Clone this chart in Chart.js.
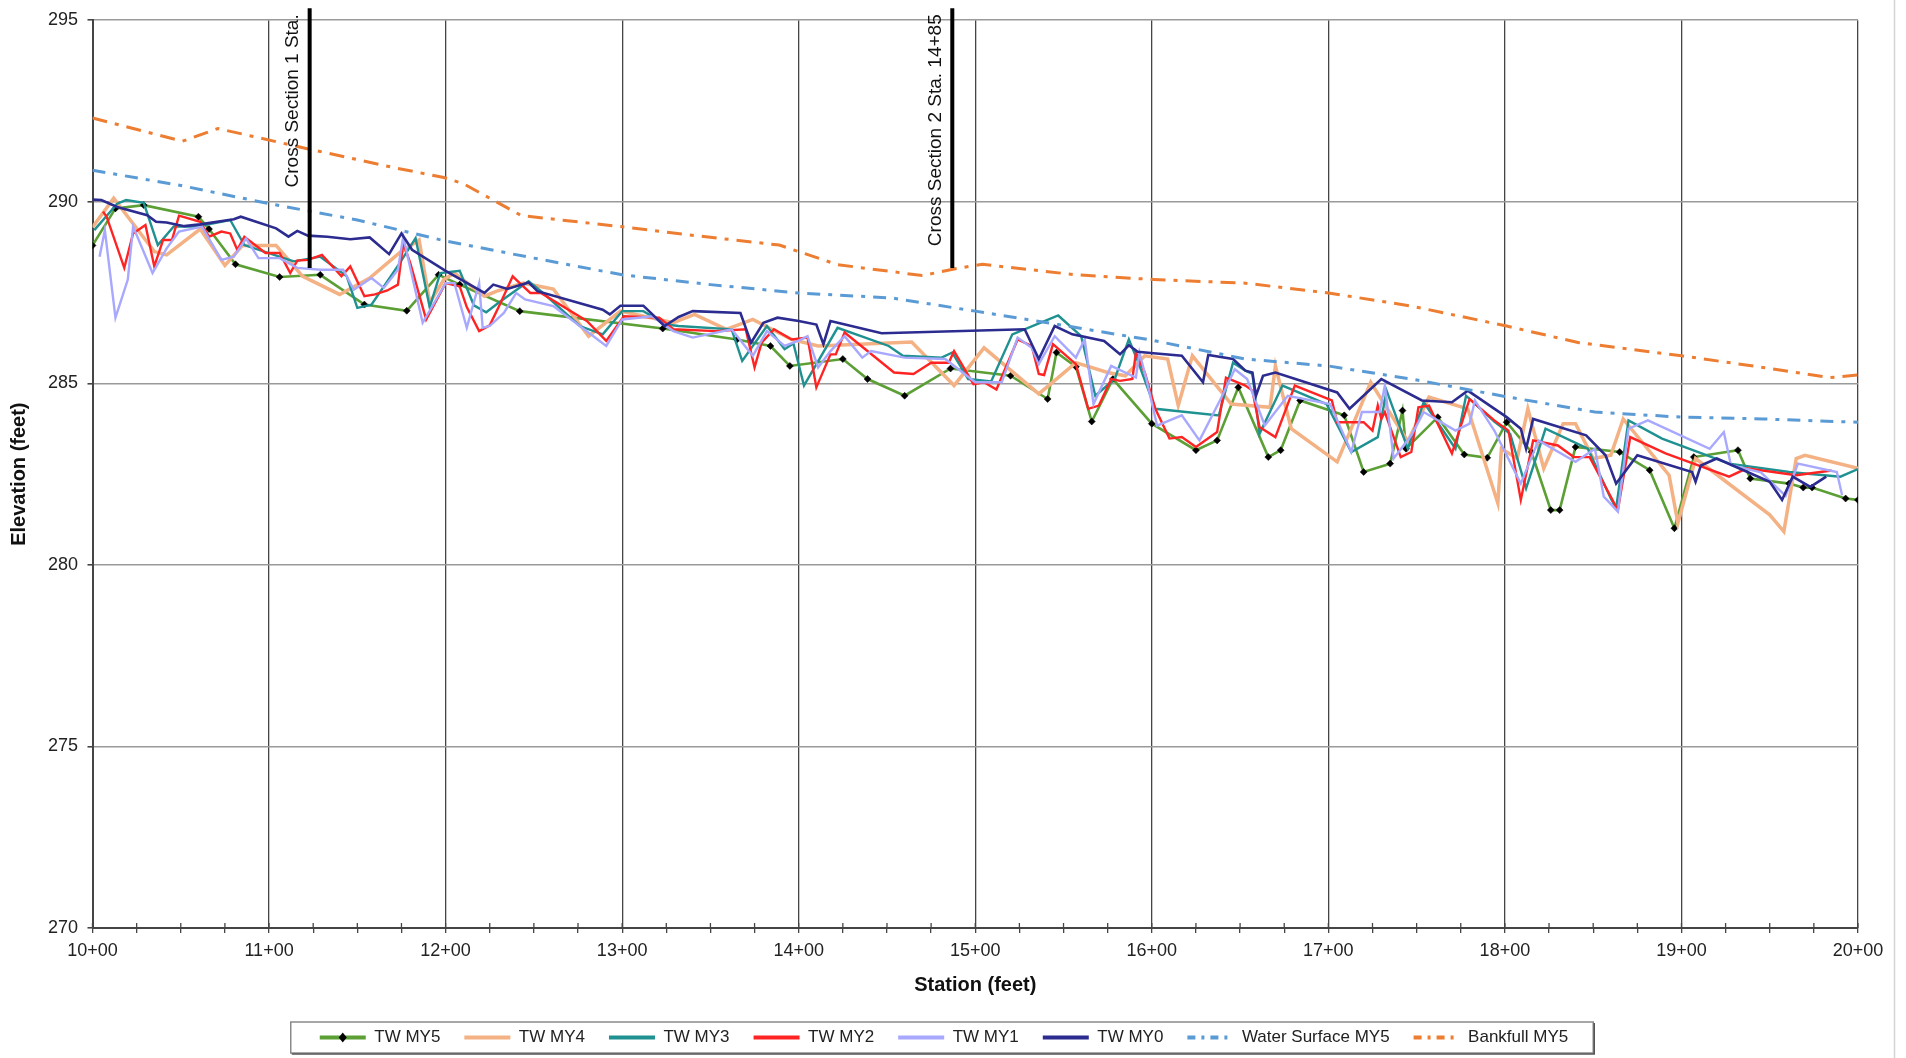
<!DOCTYPE html>
<html>
<head>
<meta charset="utf-8">
<title>Longitudinal Profile</title>
<script src="https://cdn.jsdelivr.net/npm/chart.js@4.4.1/dist/chart.umd.min.js"></script>
<style>
  html, body { margin: 0; padding: 0; background: #fff; }
  #wrap { width: 1906px; height: 1058px; }
</style>
</head>
<body>
<div id="wrap"><canvas id="chart" width="1906" height="1058"></canvas></div>
<script>
// station (ft) / elevation (ft) pairs
const twMY5 = [[1000,288.8],[1013,289.82],[1029,289.91],[1060,289.59],[1066,289.25],[1081,288.28],[1106,287.93],[1129,287.99],[1154,287.17],[1178,287.0],[1196,287.99],[1208,287.72],[1242,286.99],[1323,286.51],[1365,286.21],[1384,286.03],[1395,285.48],[1425,285.67],[1439,285.12],[1460,284.66],[1486,285.41],[1520,285.21],[1541,284.57],[1546,285.85],[1557,285.46],[1566,283.95],[1578,285.12],[1600,283.89],[1625,283.16],[1637,283.43],[1649,284.89],[1666,282.97],[1673,283.16],[1684,284.53],[1709,284.12],[1720,282.56],[1735,282.79],[1742,284.25],[1744,283.2],[1762,284.07],[1777,283.04],[1790,282.95],[1801,283.93],[1815,283.11],[1826,281.51],[1831,281.51],[1840,283.25],[1865,283.11],[1882,282.61],[1896,281.01],[1907,282.97],[1932,283.16],[1939,282.38],[1961,282.24],[1969,282.13],[1974,282.13],[1993,281.83],[2000,281.79]];

const twMY4 = [[1000,289.3],[1012,290.1],[1035,288.63],[1042,288.54],[1061,289.25],[1075,288.25],[1085,288.8],[1104,288.8],[1107,288.63],[1119,287.95],[1140,287.45],[1157,287.9],[1174,288.6],[1185,288.95],[1191,287.22],[1199,287.86],[1205,288.04],[1222,287.4],[1229,287.54],[1244,287.76],[1261,287.6],[1281,286.3],[1299,286.99],[1329,286.67],[1341,286.9],[1359,286.49],[1374,286.76],[1396,286.21],[1411,286.03],[1464,286.14],[1488,284.94],[1505,285.98],[1536,284.71],[1557,285.57],[1575,285.3],[1585,285.21],[1596,285.76],[1609,285.67],[1615,284.39],[1623,285.76],[1645,284.43],[1667,284.34],[1670,285.48],[1679,283.75],[1705,282.84],[1724,285.03],[1745,283.4],[1757,284.62],[1779,284.3],[1796,281.7],[1798,283.2],[1807,282.93],[1813,284.3],[1822,282.66],[1833,283.89],[1840,283.89],[1850,282.93],[1860,283.02],[1867,284.02],[1893,282.47],[1898,281.15],[1908,282.93],[1950,281.38],[1958,280.92],[1965,282.93],[1970,283.02],[2000,282.66]];

const twMY3 = [[1001,289.22],[1014,289.95],[1019,290.05],[1029,289.97],[1037,288.81],[1046,289.32],[1059,289.32],[1078,289.5],[1086,288.81],[1099,288.6],[1114,288.36],[1129,288.49],[1144,287.95],[1150,287.08],[1158,287.17],[1174,288.31],[1183,289.0],[1191,287.1],[1197,288.04],[1208,288.1],[1216,287.15],[1223,286.96],[1230,287.22],[1247,287.81],[1254,287.54],[1276,286.58],[1289,286.35],[1300,286.99],[1312,286.99],[1325,286.62],[1332,286.58],[1362,286.49],[1368,285.62],[1382,286.58],[1392,285.94],[1397,286.1],[1403,284.94],[1422,286.53],[1451,286.03],[1459,285.76],[1481,285.71],[1487,285.85],[1496,285.12],[1509,285.05],[1521,286.35],[1547,286.87],[1560,286.3],[1568,284.66],[1579,285.12],[1587,286.21],[1592,285.62],[1602,284.3],[1638,284.12],[1646,285.57],[1653,285.35],[1657,285.26],[1661,283.61],[1674,284.94],[1699,284.43],[1713,283.11],[1728,283.52],[1733,284.8],[1745,283.2],[1754,284.48],[1772,283.2],[1778,284.66],[1794,283.95],[1803,283.61],[1812,282.11],[1823,283.75],[1847,283.2],[1860,281.83],[1863,281.56],[1870,283.98],[1889,283.48],[1927,282.79],[1961,282.56],[1990,282.43],[2000,282.64]];

const twMY2 = [[1006,289.73],[1008,289.59],[1018,288.18],[1023,289.13],[1030,289.36],[1035,288.22],[1040,288.95],[1045,288.95],[1049,289.62],[1061,289.45],[1066,289.04],[1073,289.18],[1078,289.13],[1082,288.68],[1086,289.04],[1098,288.59],[1106,288.59],[1112,288.04],[1116,288.38],[1122,288.4],[1130,288.54],[1141,287.95],[1146,288.22],[1154,287.4],[1160,287.45],[1167,287.56],[1173,287.72],[1176,288.86],[1180,288.31],[1189,286.76],[1200,287.76],[1208,287.67],[1212,287.1],[1219,286.44],[1225,286.6],[1231,287.2],[1238,287.95],[1242,287.76],[1248,287.49],[1254,287.49],[1280,286.72],[1291,286.17],[1301,286.85],[1321,286.81],[1329,286.49],[1353,286.44],[1370,286.49],[1375,285.44],[1379,286.12],[1386,286.49],[1396,286.21],[1405,286.26],[1410,284.89],[1418,285.8],[1421,285.8],[1426,286.4],[1454,285.3],[1465,285.26],[1475,285.57],[1485,285.57],[1488,285.89],[1499,284.98],[1505,285.03],[1512,284.83],[1524,286.21],[1532,286.03],[1536,285.26],[1539,285.23],[1544,286.08],[1557,285.53],[1564,284.3],[1570,284.39],[1577,285.12],[1582,285.07],[1589,285.12],[1591,285.85],[1596,285.3],[1602,284.3],[1610,283.48],[1617,283.52],[1625,283.25],[1637,283.66],[1642,285.16],[1653,284.94],[1657,284.8],[1661,283.8],[1670,283.52],[1681,284.94],[1702,284.53],[1705,283.93],[1720,283.93],[1725,283.7],[1728,284.39],[1730,284.02],[1732,284.21],[1741,282.97],[1747,283.11],[1751,284.34],[1757,284.39],[1770,283.07],[1780,284.57],[1794,283.98],[1802,283.7],[1809,281.79],[1816,283.43],[1830,283.29],[1839,282.97],[1848,282.97],[1864,281.51],[1871,283.52],[1891,283.07],[1927,282.43],[1937,282.66],[1965,282.47],[1985,282.6]];

const twMY1 = [[1004,288.49],[1007,289.22],[1013,286.81],[1020,287.86],[1023,289.32],[1034,288.04],[1042,288.72],[1049,289.18],[1062,289.32],[1073,288.4],[1080,288.49],[1087,288.99],[1094,288.45],[1106,288.45],[1116,288.18],[1129,288.13],[1142,288.13],[1148,287.58],[1158,287.9],[1165,287.63],[1173,288.13],[1176,289.04],[1187,286.67],[1200,287.76],[1205,287.76],[1212,286.53],[1219,287.76],[1221,286.53],[1225,286.58],[1233,286.94],[1240,287.49],[1245,287.31],[1261,287.13],[1291,286.03],[1300,286.76],[1317,286.85],[1329,286.44],[1340,286.26],[1362,286.49],[1374,285.76],[1382,286.44],[1392,286.03],[1401,286.2],[1405,286.3],[1411,285.44],[1418,285.89],[1426,286.3],[1436,285.71],[1441,285.89],[1460,285.71],[1483,285.67],[1500,285.03],[1515,285.03],[1524,286.26],[1532,285.98],[1536,285.53],[1545,286.3],[1557,285.71],[1562,286.21],[1567,284.43],[1577,285.48],[1591,285.16],[1593,285.85],[1597,285.1],[1603,283.84],[1617,284.12],[1627,283.43],[1639,284.57],[1647,285.39],[1654,285.12],[1664,283.84],[1677,284.66],[1701,284.43],[1713,283.11],[1719,284.21],[1729,284.21],[1732,284.94],[1737,282.93],[1747,283.57],[1754,284.21],[1772,283.7],[1780,283.89],[1783,284.53],[1794,283.7],[1809,282.24],[1819,283.43],[1840,282.84],[1851,283.2],[1856,281.88],[1864,281.47],[1870,283.75],[1881,283.98],[1916,283.2],[1924,283.66],[1928,282.75],[1945,282.55],[1959,281.9],[1966,282.79],[1988,282.56],[1991,281.92]];

const twMY0 = [[1000,290.06],[1005,290.05],[1014,289.86],[1031,289.63],[1036,289.45],[1042,289.43],[1052,289.33],[1061,289.38],[1080,289.52],[1084,289.59],[1104,289.27],[1111,289.04],[1116,289.2],[1122,289.07],[1133,289.04],[1146,288.97],[1157,289.02],[1168,288.56],[1175,289.13],[1181,288.68],[1200,288.1],[1222,287.49],[1227,287.72],[1235,287.6],[1247,287.78],[1252,287.54],[1289,287.03],[1293,286.9],[1299,287.14],[1312,287.14],[1324,286.58],[1332,286.83],[1340,286.99],[1367,286.94],[1373,286.12],[1380,286.67],[1388,286.81],[1400,286.72],[1410,286.62],[1414,286.08],[1418,286.72],[1447,286.38],[1528,286.49],[1536,285.67],[1545,286.58],[1555,286.35],[1573,286.17],[1582,285.8],[1587,286.05],[1592,285.87],[1601,285.83],[1617,285.76],[1629,285.03],[1632,285.78],[1646,285.67],[1653,285.35],[1657,285.3],[1659,284.66],[1663,285.21],[1670,285.3],[1705,284.75],[1712,284.3],[1730,285.12],[1753,284.53],[1770,284.48],[1779,284.8],[1801,284.07],[1809,283.75],[1812,283.2],[1816,284.02],[1846,283.57],[1857,283.02],[1863,282.24],[1875,283.02],[1906,282.56],[1908,282.29],[1911,282.74],[1920,282.93],[1950,282.29],[1957,281.79],[1963,282.43],[1973,282.15],[1982,282.43]];

const waterSurfaceMY5 = [[1000,290.87],[1050,290.45],[1100,289.95],[1150,289.5],[1200,288.92],[1250,288.45],[1300,287.99],[1350,287.72],[1400,287.49],[1453,287.35],[1500,286.99],[1547,286.62],[1600,286.19],[1653,285.67],[1700,285.48],[1747,285.12],[1800,284.64],[1851,284.21],[1900,284.07],[1946,284.02],[2000,283.93]];

const bankfullMY5 = [[1000,292.31],[1051,291.67],[1071,292.02],[1121,291.47],[1170,290.95],[1199,290.67],[1210,290.5],[1243,289.62],[1299,289.32],[1345,289.05],[1389,288.81],[1422,288.27],[1470,287.97],[1488,288.15],[1504,288.28],[1557,287.99],[1601,287.86],[1653,287.76],[1700,287.49],[1747,287.13],[1801,286.58],[1842,286.12],[1900,285.76],[1946,285.44],[1984,285.16],[2000,285.23]];

const stationLabels = ['10+00','11+00','12+00','13+00','14+00','15+00','16+00','17+00','18+00','19+00','20+00'];
const sectionSta = [1123, 1487];
const sectionLabels = ['Cross Section 1 Sta.', 'Cross Section 2 Sta. 14+85'];
const sectionBottom = 288.18;

const FONT = '"Liberation Sans", Arial, sans-serif';

function pts(arr) {
  return arr.map(([x, y]) => ({ x, y }));
}

// vertical cross-section markers with their rotated captions,
// plus the upper half of the station tick marks
const sectionMarks = {
  id: 'sectionMarks',
  afterDatasetsDraw(chart) {
    const { ctx, chartArea, scales: { x, y } } = chart;
    ctx.save();
    ctx.strokeStyle = '#454545';
    ctx.lineWidth = 1.3;
    for (let v = x.min; v <= x.max; v += 25) {
      const px = x.getPixelForValue(v);
      ctx.beginPath();
      ctx.moveTo(px, chartArea.bottom - 5);
      ctx.lineTo(px, chartArea.bottom);
      ctx.stroke();
    }

    sectionSta.forEach((s, i) => {
      const px = x.getPixelForValue(s);
      ctx.strokeStyle = '#000';
      ctx.lineWidth = 4;
      ctx.beginPath();
      ctx.moveTo(px, chartArea.top - 12);
      ctx.lineTo(px, y.getPixelForValue(sectionBottom));
      ctx.stroke();

      ctx.save();
      ctx.translate(px - 17, chartArea.top - 6);
      ctx.rotate(-Math.PI / 2);
      ctx.font = '19px ' + FONT;
      ctx.fillStyle = '#111';
      ctx.textAlign = 'right';
      ctx.textBaseline = 'middle';
      ctx.fillText(sectionLabels[i], 0, 0);
      ctx.restore();
    });
    ctx.restore();
  }
};

// nudge the legend row to the right, like the original layout
const legendShift = {
  id: 'legendShift',
  afterLayout(chart) {
    chart.legend.left += 15;
    chart.legend.right += 15;
  }
};

// frame round the legend, marker on the first entry, page edge line
const legendFrame = {
  id: 'legendFrame',
  afterDraw(chart) {
    const { ctx } = chart;
    const boxes = chart.legend.legendHitBoxes;
    if (!boxes || !boxes.length) return;
    const first = boxes[0];
    const last = boxes[boxes.length - 1];
    const cy = first.top + first.height / 2;
    const left = first.left - 29;
    const right = last.left + last.width + 25;
    ctx.save();
    ctx.strokeStyle = '#8a8a8a';
    ctx.lineWidth = 1.5;
    ctx.strokeRect(left, cy - 15.5, right - left, 31);
    ctx.strokeStyle = '#555';
    ctx.beginPath();
    ctx.moveTo(left + 1, cy + 16.5);
    ctx.lineTo(right + 1, cy + 16.5);
    ctx.lineTo(right + 1, cy - 14.5);
    ctx.stroke();

    const mx = first.left + 23;
    ctx.fillStyle = '#000';
    ctx.beginPath();
    ctx.moveTo(mx, cy - 5);
    ctx.lineTo(mx + 4, cy);
    ctx.lineTo(mx, cy + 5);
    ctx.lineTo(mx - 4, cy);
    ctx.closePath();
    ctx.fill();

    ctx.strokeStyle = '#d4d4d4';
    ctx.lineWidth = 1.5;
    ctx.beginPath();
    ctx.moveTo(1894.5, 0);
    ctx.lineTo(1894.5, 1058);
    ctx.stroke();
    ctx.restore();
  }
};

const ctx = document.getElementById('chart').getContext('2d');
new Chart(ctx, {
  type: 'line',
  data: {
    datasets: [
      { label: 'TW MY5', data: pts(twMY5), borderColor: '#5b9f35', backgroundColor: '#5b9f35', borderWidth: 2.6,
        pointStyle: 'rectRot', pointRadius: 3.5, pointBackgroundColor: '#000', pointBorderColor: '#000', pointBorderWidth: 0.5, order: 8 },
      { label: 'TW MY4', data: pts(twMY4), borderColor: '#f4b183', backgroundColor: '#f4b183', borderWidth: 3.5, pointRadius: 0, order: 7 },
      { label: 'TW MY3', data: pts(twMY3), borderColor: '#1f9191', backgroundColor: '#1f9191', borderWidth: 2.4, pointRadius: 0, order: 6 },
      { label: 'TW MY2', data: pts(twMY2), borderColor: '#ff2424', backgroundColor: '#ff2424', borderWidth: 2.4, pointRadius: 0, order: 5 },
      { label: 'TW MY1', data: pts(twMY1), borderColor: '#a8a8ff', backgroundColor: '#a8a8ff', borderWidth: 2.4, pointRadius: 0, order: 4 },
      { label: 'TW MY0', data: pts(twMY0), borderColor: '#2b2b90', backgroundColor: '#2b2b90', borderWidth: 2.6, pointRadius: 0, order: 3 },
      { label: 'Water Surface MY5', data: pts(waterSurfaceMY5), borderColor: '#5b9bd5', backgroundColor: '#5b9bd5', borderWidth: 3,
        borderDash: [13, 8, 4, 8], pointRadius: 0, order: 2 },
      { label: 'Bankfull MY5', data: pts(bankfullMY5), borderColor: '#ed7d31', backgroundColor: '#ed7d31', borderWidth: 3,
        borderDash: [15, 8, 4, 8], pointRadius: 0, order: 1 }
    ]
  },
  options: {
    responsive: false,
    animation: false,
    events: [],
    layout: { padding: { top: 15, right: 48, bottom: 2, left: 0 } },
    elements: { line: { tension: 0 } },
    scales: {
      x: {
        type: 'linear',
        min: 1000,
        max: 2000,
        afterFit(s) { s.height = 77; },
        ticks: {
          stepSize: 25,
          autoSkip: false,
          maxRotation: 0,
          padding: 7,
          color: '#222',
          font: { family: FONT, size: 18 },
          callback: (v) => (v % 100 === 0 ? stationLabels[(v - 1000) / 100] : '')
        },
        grid: {
          color: (c) => (c.tick && c.tick.value % 100 === 0 ? '#454545' : 'rgba(0,0,0,0)'),
          lineWidth: 1.3,
          tickLength: 5,
          tickColor: '#454545'
        },
        border: { color: '#454545', width: 2 },
        title: {
          display: true,
          text: 'Station (feet)',
          color: '#111',
          font: { family: FONT, size: 20, weight: 'bold' },
          padding: { top: 0, bottom: 8 }
        }
      },
      y: {
        min: 270,
        max: 295,
        afterFit(s) { s.width = 92.5; },
        ticks: {
          stepSize: 5,
          padding: 9.5,
          color: '#222',
          font: { family: FONT, size: 18 }
        },
        grid: { color: '#9a9a9a', lineWidth: 1.6, tickLength: 5, tickColor: '#454545' },
        border: { color: '#454545', width: 2 },
        title: {
          display: true,
          text: 'Elevation (feet)',
          color: '#111',
          font: { family: FONT, size: 20, weight: 'bold' },
          padding: { top: 7, bottom: 0 }
        }
      }
    },
    plugins: {
      tooltip: { enabled: false },
      legend: {
        position: 'bottom',
        labels: {
          usePointStyle: true,
          pointStyleWidth: 46,
          padding: 24,
          color: '#222',
          font: { family: FONT, size: 17 },
          sort: (a, b) => a.datasetIndex - b.datasetIndex,
          generateLabels(chart) {
            const items = Chart.defaults.plugins.legend.labels.generateLabels(chart);
            items.forEach((it) => {
              const ds = chart.data.datasets[it.datasetIndex];
              it.pointStyle = 'line';
              it.strokeStyle = ds.borderColor;
              it.lineWidth = 4;
              it.lineDash = ds.borderDash ? [8, 6, 3, 6] : [];
            });
            return items;
          }
        }
      }
    }
  },
  plugins: [legendShift, sectionMarks, legendFrame]
});
</script>
</body>
</html>
